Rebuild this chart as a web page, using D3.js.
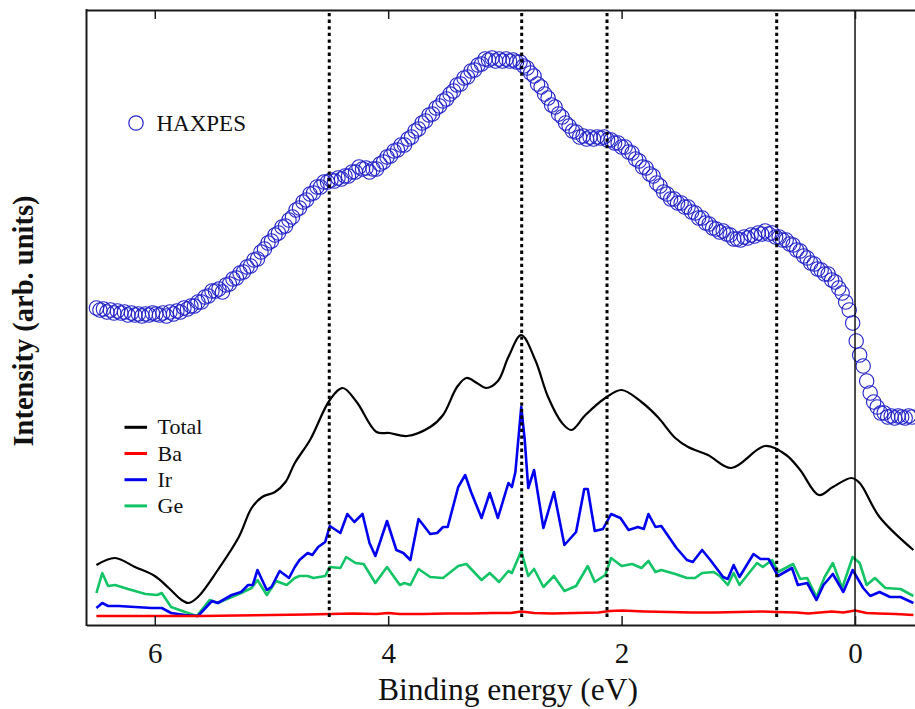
<!DOCTYPE html>
<html>
<head>
<meta charset="utf-8">
<script src="https://cdn.jsdelivr.net/npm/d3@7"></script>
<style>
  html, body { margin: 0; padding: 0; background: #fff; }
  svg { display: block; }
  text { font-family: "Liberation Serif", "Times New Roman", serif; }
</style>
</head>
<body>
<svg id="chart" width="915" height="709"></svg>
<script>
// Binding energy axis (eV)
const xTicks = [6, 4, 2, 0];
const markerEnergies = [4.505, 2.856, 2.125, 0.671];
const fermiEnergy = 0;

// HAXPES spectrum: sampled every 0.03 eV from 6.50 eV downwards
const haxpesStart = 6.50;
const haxpesStep = 0.03;
const haxpes = [
  317,315,316,313,315,312,314,312,313,310,
  312,310,311,309,311,310,312,311,310,312,
  309,313,311,314,313,317,316,319,319,323,
  323,328,329,334,334,336,333,340,341,346,
  347,352,353,358,359,365,366,373,376,382,
  384,390,392,398,399,405,408,415,417,423,
  425,431,432,438,438,443,443,445,444,447,
  446,449,449,453,453,458,456,457,453,456,
  456,461,463,468,469,474,475,480,480,486,
  488,494,496,502,504,510,511,517,519,524,
  526,531,534,540,541,547,548,554,555,560,
  561,566,565,567,564,566,564,566,564,565,
  563,563,559,557,552,549,541,538,531,527,
  520,518,511,508,502,499,494,493,488,489,
  486,488,486,488,487,488,485,485,482,482,
  478,478,473,472,466,464,458,457,451,449,
  442,439,433,431,426,426,422,422,418,418,
  413,412,407,407,402,401,397,396,393,394,
  391,390,386,386,385,388,387,390,389,392,
  391,394,391,392,388,388,385,385,381,380,
  375,374,369,367,362,361,356,355,351,351,
  345,343,337,332,323,315,302,284,270,259,
  244,232,223,218,212,212,208,209,207,209,
  208,207,209,208
];

// Calculated density of states: [binding energy (eV), intensity]
const total = [
  [6.50,60],[6.34,67],[6.17,58],[6.00,49],[5.88,37],[5.77,25],[5.71,22],[5.63,28],
  [5.46,55],[5.28,88],[5.17,117],[5.08,128],[4.97,133],[4.88,143],[4.80,162],[4.67,185],
  [4.50,225],[4.39,237],[4.27,223],[4.10,193],[3.99,192],[3.84,189],[3.64,198],[3.53,210],
  [3.41,238],[3.33,247],[3.24,242],[3.16,237],[3.06,244],[2.97,268],[2.86,290],[2.74,265],
  [2.63,228],[2.51,202],[2.43,195],[2.31,210],[2.14,227],[2.00,235],[1.83,223],[1.69,208],
  [1.54,187],[1.43,178],[1.26,170],[1.06,157],[0.77,179],[0.59,170],[0.47,155],[0.31,130],
  [0.19,138],[0.03,147],[-0.04,142],[-0.21,108],[-0.50,75]
];

const ba = [
  [6.50,9],[6.20,9],[5.90,9],[5.60,9],[5.30,9.5],[5.00,10],[4.70,10.5],[4.50,11],
  [4.30,11.5],[4.10,11],[4.00,12],[3.90,11],[3.70,11],[3.50,11.5],[3.30,11.5],[3.10,12],
  [2.95,12],[2.86,13.5],[2.75,12],[2.60,11.5],[2.40,12],[2.20,12.5],[2.10,14],[2.00,14.5],
  [1.80,13.5],[1.60,13],[1.40,12.5],[1.20,12.5],[1.00,13],[0.80,13.5],[0.67,13],[0.50,12.5],
  [0.40,11.5],[0.30,12.5],[0.20,13.5],[0.10,12.5],[0.00,14.5],[-0.10,12],[-0.20,11.5],
  [-0.35,11],[-0.50,10]
];

const ir = [
  [6.50,17],[6.45,22],[6.40,19],[6.31,19],[6.17,18],[6.03,17],[5.94,17],[5.86,12],
  [5.74,10],[5.63,9],[5.51,24],[5.46,22],[5.34,30],[5.26,33],[5.20,40],[5.16,40],
  [5.12,55],[5.04,35],[5.00,38],[4.93,54],[4.85,47],[4.80,58],[4.76,65],[4.69,72],
  [4.65,70],[4.60,78],[4.54,83],[4.50,99],[4.41,92],[4.35,111],[4.29,103],[4.22,111],
  [4.16,82],[4.11,69],[4.01,104],[3.93,75],[3.87,72],[3.81,65],[3.74,106],[3.64,91],
  [3.58,92],[3.53,98],[3.49,98],[3.40,138],[3.34,150],[3.29,133],[3.20,107],[3.13,132],
  [3.06,107],[2.97,142],[2.94,138],[2.91,153],[2.86,218],[2.83,185],[2.80,137],[2.75,155],
  [2.67,97],[2.58,133],[2.49,80],[2.39,93],[2.32,136],[2.29,136],[2.23,94],[2.16,96],
  [2.09,111],[2.01,107],[1.94,95],[1.86,98],[1.81,96],[1.77,111],[1.71,98],[1.66,99],
  [1.53,77],[1.44,65],[1.39,63],[1.31,75],[1.24,65],[1.13,48],[1.09,46],[1.04,60],
  [0.99,48],[0.87,71],[0.81,66],[0.74,66],[0.66,49],[0.54,57],[0.49,40],[0.41,42],
  [0.33,25],[0.27,40],[0.19,51],[0.10,33],[0.02,55],[-0.07,37],[-0.13,29],[-0.21,33],
  [-0.30,28],[-0.39,28],[-0.50,22]
];

const ge = [
  [6.50,32],[6.45,52],[6.40,39],[6.34,40],[6.23,36],[6.08,31],[5.98,30],[5.94,32],
  [5.86,18],[5.74,13],[5.64,9],[5.53,25],[5.46,22],[5.34,28],[5.26,32],[5.17,37],
  [5.12,45],[5.04,30],[4.96,44],[4.87,40],[4.80,47],[4.76,49],[4.69,49],[4.64,47],
  [4.54,49],[4.50,58],[4.41,57],[4.36,68],[4.28,62],[4.21,61],[4.11,42],[4.01,58],
  [3.90,40],[3.86,42],[3.81,40],[3.74,56],[3.64,48],[3.53,47],[3.40,59],[3.33,61],
  [3.20,45],[3.13,52],[3.05,43],[2.97,54],[2.94,52],[2.86,74],[2.80,49],[2.75,56],
  [2.67,38],[2.58,49],[2.49,34],[2.39,39],[2.29,59],[2.23,43],[2.14,50],[2.09,67],
  [2.00,59],[1.91,61],[1.83,57],[1.77,64],[1.71,53],[1.66,55],[1.54,51],[1.44,47],
  [1.37,47],[1.31,52],[1.21,53],[1.16,49],[1.09,40],[1.04,52],[0.99,40],[0.84,62],
  [0.79,58],[0.71,65],[0.66,53],[0.53,61],[0.47,46],[0.41,47],[0.33,28],[0.26,48],
  [0.19,62],[0.11,37],[0.02,68],[-0.04,62],[-0.10,40],[-0.17,47],[-0.26,37],[-0.39,36],
  [-0.50,29]
];

const dosSeries = [
  { name: "Total", data: total, color: "#000000", width: 2.2, smooth: true },
  { name: "Ba",    data: ba,    color: "#ff0000", width: 2.4, smooth: false },
  { name: "Ir",    data: ir,    color: "#0000f0", width: 2.6, smooth: false },
  { name: "Ge",    data: ge,    color: "#12c466", width: 2.6, smooth: false }
];

const svg = d3.select("#chart");
const plotLeft = 86.5, plotRight = 915, plotTop = 10, plotBottom = 625;

const x = d3.scaleLinear().domain([6.585, -0.514]).range([plotLeft, plotRight]);
const y = d3.scaleLinear().domain([0, 615]).range([plotBottom, plotTop]);

const plot = svg.append("g");

// HAXPES open circles
const haxpesPoints = haxpes.map((v, i) => [haxpesStart - i * haxpesStep, v]);
plot.append("g")
  .selectAll("circle")
  .data(haxpesPoints)
  .join("circle")
  .attr("cx", d => x(d[0]))
  .attr("cy", d => y(d[1]))
  .attr("r", 7.2)
  .attr("fill", "none")
  .attr("stroke", "#2323c8")
  .attr("stroke-width", 1.1);

// DOS curves (drawn back to front: Ge, Ir, Ba, Total)
dosSeries.slice().reverse().forEach(s => {
  const line = d3.line()
    .x(d => x(d[0]))
    .y(d => y(d[1]))
    .curve(s.smooth ? d3.curveCatmullRom.alpha(0.5) : d3.curveLinear);
  plot.append("path")
    .datum(s.data)
    .attr("d", line)
    .attr("fill", "none")
    .attr("stroke", s.color)
    .attr("stroke-width", s.width)
    .attr("stroke-linejoin", "round");
});

// Dotted guide lines at the marked features
plot.append("g")
  .selectAll("line")
  .data(markerEnergies)
  .join("line")
  .attr("x1", d => x(d)).attr("x2", d => x(d))
  .attr("y1", plotTop + 3).attr("y2", plotBottom - 6)
  .attr("stroke", "#000")
  .attr("stroke-width", 3)
  .attr("stroke-dasharray", "3.3,3.3");

// Fermi level
plot.append("line")
  .attr("x1", x(fermiEnergy)).attr("x2", x(fermiEnergy))
  .attr("y1", plotTop).attr("y2", plotBottom)
  .attr("stroke", "#000")
  .attr("stroke-width", 1.4);

// Axes
const axisBottom = d3.axisBottom(x).tickValues(xTicks).tickFormat(d3.format("d"))
  .tickSize(-9).tickSizeOuter(0).tickPadding(17);
const gx = svg.append("g").attr("transform", `translate(0,${plotBottom})`).call(axisBottom);
gx.select(".domain").attr("stroke", "#1a1a1a").attr("stroke-width", 2);
gx.selectAll(".tick line").attr("stroke", "#1a1a1a").attr("stroke-width", 1.5);
gx.selectAll(".tick text")
  .attr("font-family", "'Liberation Serif', 'Times New Roman', serif")
  .attr("font-size", 29).attr("fill", "#111");

const axisTop = d3.axisTop(x).tickValues(xTicks).tickFormat("")
  .tickSize(-9).tickSizeOuter(0);
const gt = svg.append("g").attr("transform", `translate(0,${plotTop})`).call(axisTop);
gt.select(".domain").attr("stroke", "#1a1a1a").attr("stroke-width", 2);
gt.selectAll(".tick line").attr("stroke", "#1a1a1a").attr("stroke-width", 1.5);

svg.append("line")
  .attr("x1", plotLeft).attr("x2", plotLeft)
  .attr("y1", plotTop - 1).attr("y2", plotBottom + 1)
  .attr("stroke", "#1a1a1a").attr("stroke-width", 2);

// Axis titles
svg.append("text")
  .attr("x", 508).attr("y", 700)
  .attr("text-anchor", "middle")
  .attr("font-size", 31.5).attr("fill", "#111")
  .text("Binding energy (eV)");

svg.append("text")
  .attr("transform", "translate(33,321) rotate(-90)")
  .attr("text-anchor", "middle")
  .attr("font-size", 28.5).attr("font-weight", "bold").attr("fill", "#111")
  .text("Intensity (arb. units)");

// HAXPES legend
svg.append("circle")
  .attr("cx", 136).attr("cy", 123).attr("r", 7.2)
  .attr("fill", "none").attr("stroke", "#2323c8").attr("stroke-width", 1.2);
svg.append("text")
  .attr("x", 156.5).attr("y", 130.5)
  .attr("font-size", 23).attr("fill", "#111")
  .text("HAXPES");

// DOS legend
const legend = svg.append("g");
dosSeries.forEach((s, i) => {
  const yy = 427.3 + i * 26.2;
  legend.append("line")
    .attr("x1", 124.5).attr("x2", 147)
    .attr("y1", yy).attr("y2", yy)
    .attr("stroke", s.color).attr("stroke-width", 3);
  legend.append("text")
    .attr("x", 157.5).attr("y", yy + 7)
    .attr("font-size", 22).attr("fill", "#111")
    .text(s.name);
});
</script>
</body>
</html>
